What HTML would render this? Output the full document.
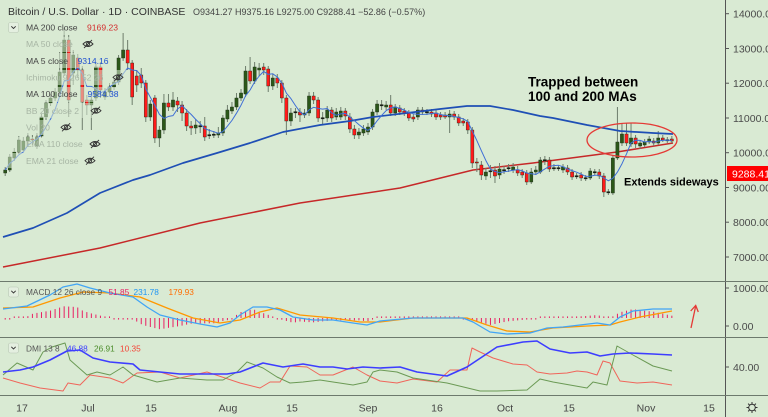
<!DOCTYPE html>
<html><head><meta charset="utf-8">
<style>
html,body{margin:0;padding:0;background:#d9ead3;width:768px;height:417px;overflow:hidden;}
svg{display:block;font-family:"Liberation Sans",Arial,sans-serif;}
</style></head>
<body>
<svg id="chart" width="768" height="417" viewBox="0 0 768 417" xmlns="http://www.w3.org/2000/svg">
<rect width="768" height="417" fill="#d9ead3"/>

<!-- moving averages 100 / 200 -->
<polyline fill="none" stroke="#c62828" stroke-width="1.5" stroke-linejoin="round" points="3,267 100,248 200,223 300,203 400,188 473,170 533,163 617,152 673,143"/>
<g id="candles"></g>
<polyline fill="none" stroke="#1f4fb5" stroke-width="1.7" stroke-linejoin="round" points="3,237 33,228 67,213 100,193 133,180 150,175 183,163 217,153 250,143 283,132 320,125 350,121 373,117 407,113 440,109 467,106 490,106 513,110 540,116 553,118 587,125 620,131 653,133 673,134"/>
<polyline id="ma5" fill="none" stroke="#3f6fd6" stroke-width="1" stroke-linejoin="round" points=""/>

<!-- annotations -->
<text x="528" y="86.5" font-size="13.5" font-weight="bold" fill="#000">Trapped between</text>
<text x="528" y="101" font-size="13.5" font-weight="bold" fill="#000">100 and 200 MAs</text>
<ellipse cx="632" cy="140" rx="45" ry="17" fill="none" stroke="#e53935" stroke-width="1.3"/>
<text x="624" y="185.5" font-size="11" font-weight="bold" fill="#000">Extends sideways</text>

<!-- legend overlays -->
<g fill="#d9ead3" opacity="0.55">
<rect x="6" y="20" width="116" height="15"/>
<rect x="6" y="37" width="92" height="15"/>
<rect x="6" y="53" width="110" height="15"/>
<rect x="6" y="70" width="122" height="15"/>
<rect x="6" y="87" width="120" height="15"/>
<rect x="6" y="103" width="100" height="15"/>
<rect x="6" y="120" width="70" height="15"/>
<rect x="6" y="137" width="100" height="15"/>
<rect x="6" y="153" width="95" height="15"/>
</g>

<!-- header -->
<text x="8" y="15" font-size="10.5" fill="#333">Bitcoin / U.S. Dollar · 1D · COINBASE</text>
<text x="193" y="15" font-size="9" fill="#444">O9341.27 H9375.16 L9275.00 C9288.41 −52.86 (−0.57%)</text>

<!-- legend -->
<rect x="8.5" y="22.5" width="10" height="10" rx="2" fill="#e4efe0" stroke="#b8c6b4" stroke-width="0.6"/>
<polyline points="11.3,26.3 13.5,28.5 15.7,26.3" fill="none" stroke="#333" stroke-width="0.9"/>
<g font-size="8.6">
<text x="26" y="30.5" fill="#444">MA 200 close</text><text x="87" y="30.5" fill="#d32f2f">9169.23</text>
<text x="26" y="47.2" fill="#a7b5a4">MA 50 close</text>
<text x="26" y="63.9" fill="#444">MA 5 close</text><text x="77.5" y="63.9" fill="#1e4fd0">9314.16</text>
<text x="26" y="80.5" fill="#a7b5a4">Ichimoku 9 26 52 26</text>
<text x="26" y="97.2" fill="#444">MA 100 close</text><text x="87.5" y="97.2" fill="#1e4fd0">9584.38</text>
<text x="26" y="113.9" fill="#a7b5a4">BB 20 close 2</text>
<text x="26" y="130.5" fill="#a7b5a4">Vol 20</text>
<text x="26" y="147.2" fill="#a7b5a4">EMA 110 close</text>
<text x="26" y="163.9" fill="#a7b5a4">EMA 21 close</text>
</g>
<g id="eyes" fill="none" stroke="#333" stroke-width="0.9"></g>

<!-- right axis -->
<line x1="725.5" y1="0" x2="725.5" y2="417" stroke="#555" stroke-width="1"/>
<g stroke="#555" stroke-width="1">
<line x1="725" y1="13.7" x2="729" y2="13.7"/><line x1="725" y1="48.5" x2="729" y2="48.5"/>
<line x1="725" y1="83.2" x2="729" y2="83.2"/><line x1="725" y1="118" x2="729" y2="118"/>
<line x1="725" y1="152.7" x2="729" y2="152.7"/><line x1="725" y1="187.5" x2="729" y2="187.5"/>
<line x1="725" y1="222.2" x2="729" y2="222.2"/><line x1="725" y1="257" x2="729" y2="257"/>
<line x1="725" y1="288" x2="729" y2="288"/><line x1="725" y1="326" x2="729" y2="326"/>
<line x1="725" y1="367" x2="729" y2="367"/>
</g>
<g font-size="10.5" fill="#4a4a4a">
<text x="733" y="17.5">14000.00</text>
<text x="733" y="52.3">13000.00</text>
<text x="733" y="87">12000.00</text>
<text x="733" y="121.8">11000.00</text>
<text x="733" y="156.5">10000.00</text>
<text x="733" y="191.3">9000.00</text>
<text x="733" y="226">8000.00</text>
<text x="733" y="260.8">7000.00</text>
<text x="733" y="291.8">1000.00</text>
<text x="733" y="329.8">0.00</text>
<text x="733" y="370.8">40.00</text>
</g>
<rect x="727" y="166" width="41" height="15" fill="#ff0000"/>
<text x="732" y="177.3" font-size="10.5" fill="#fff">9288.41</text>

<!-- separators -->
<line x1="0" y1="281.5" x2="768" y2="281.5" stroke="#6d7a6d" stroke-width="1"/>
<line x1="0" y1="337.5" x2="768" y2="337.5" stroke="#6d7a6d" stroke-width="1"/>
<line x1="0" y1="395.5" x2="768" y2="395.5" stroke="#6d7a6d" stroke-width="1"/>

<!-- MACD -->
<g id="hist"></g>
<polyline id="macdSig" fill="none" stroke="#ff9800" stroke-width="1.3" stroke-linejoin="round" points="3,308 33,307 60,298 83,292 110,293 140,297 167,308 193,318 220,323 240,320 260,312 277,308 300,315 333,318 360,322 380,322 413,318 467,318 487,325 507,331 530,332 553,328 587,326 610,325 620,322 640,317 672,311"/>
<polyline id="macdLine" fill="none" stroke="#42a5f5" stroke-width="1.3" stroke-linejoin="round" points="3,309 27,306 50,295 63,287 77,284 90,288 110,293 133,297 147,307 160,315 180,320 200,324 217,327 230,323 240,315 253,307 267,307 280,310 293,317 313,320 333,320 353,323 367,325 380,321 413,318 463,318 473,322 490,332 507,334 530,333 547,328 563,327 597,323 610,325 620,317 633,311 653,309 672,309"/>
<rect x="8.5" y="287" width="10" height="10" rx="2" fill="#e4efe0" stroke="#b8c6b4" stroke-width="0.6"/>
<polyline points="11.3,290.8 13.5,293 15.7,290.8" fill="none" stroke="#333" stroke-width="0.9"/>
<g font-size="8.3">
<text x="26" y="295" fill="#555">MACD 12 26 close 9</text>
<text x="108.5" y="295" fill="#e91e63">51.85</text>
<text x="133.5" y="295" fill="#2196f3">231.78</text>
<text x="168.5" y="295" fill="#ff6d00">179.93</text>
</g>
<line x1="691" y1="328" x2="695.7" y2="306" stroke="#e53935" stroke-width="1.3"/>
<polyline points="690.7,311 695.7,305.5 698.3,312" fill="none" stroke="#e53935" stroke-width="1.3"/>

<!-- DMI -->
<polyline fill="none" stroke="#f0655a" stroke-width="1" stroke-linejoin="round" points="3,378 20,383 40,388 63,391 68,383 80,385 90,375 110,378 123,383 137,373 160,372 180,378 207,372 240,383 260,388 270,382 280,382 290,366 307,367 320,375 333,375 353,367 367,375 380,381 397,383 413,379 437,382 450,370 467,370 472,348 480,352 493,358 513,364 527,365 537,372 550,374 567,373 577,371 587,372 597,375 603,361 610,363 620,381 637,383 653,382 672,385"/>
<polyline fill="none" stroke="#6b9a55" stroke-width="1" stroke-linejoin="round" points="3,375 17,363 33,370 43,352 52,347 65,343 70,360 87,375 97,372 110,375 123,367 133,375 157,382 180,378 207,380 223,380 237,372 247,362 263,368 277,377 290,383 303,382 320,380 333,382 353,385 367,382 373,372 380,370 397,372 413,378 447,383 480,391 497,391 527,390 540,379 553,382 587,388 593,382 607,385 617,346 633,355 653,366 672,371"/>
<polyline fill="none" stroke="#3d3dff" stroke-width="1.6" stroke-linejoin="round" points="3,372 20,370 33,367 50,360 67,351 80,350 93,358 110,362 133,364 140,370 160,372 180,374 207,374 227,374 240,372 263,363 283,367 303,364 320,367 333,367 347,369 363,367 380,368 400,367 417,372 447,376 467,367 497,347 523,342 537,341 550,349 570,353 587,352 600,356 613,354 630,353 653,354 672,355"/>
<rect x="8.5" y="343" width="10" height="10" rx="2" fill="#e4efe0" stroke="#b8c6b4" stroke-width="0.6"/>
<polyline points="11.3,346.8 13.5,349 15.7,346.8" fill="none" stroke="#333" stroke-width="0.9"/>
<g font-size="8.3">
<text x="26" y="351.5" fill="#555">DMI 13 8</text>
<text x="67" y="351.5" fill="#4040ff">46.88</text>
<text x="94" y="351.5" fill="#4c8c2b">26.91</text>
<text x="120" y="351.5" fill="#f44336">10.35</text>
</g>

<!-- time axis -->
<g font-size="10.5" fill="#444" text-anchor="middle">
<text x="22" y="411.5">17</text>
<text x="88" y="411.5">Jul</text>
<text x="151" y="411.5">15</text>
<text x="228" y="411.5">Aug</text>
<text x="292" y="411.5">15</text>
<text x="368" y="411.5">Sep</text>
<text x="437" y="411.5">16</text>
<text x="505" y="411.5">Oct</text>
<text x="569" y="411.5">15</text>
<text x="646" y="411.5">Nov</text>
<text x="709" y="411.5">15</text>
</g>
<g transform="translate(752,407.5)" stroke="#333" stroke-width="1" fill="none">
<circle r="3.3"/>
<line x1="0" y1="-5.5" x2="0" y2="-3.3"/><line x1="0" y1="5.5" x2="0" y2="3.3"/>
<line x1="-5.5" y1="0" x2="-3.3" y2="0"/><line x1="5.5" y1="0" x2="3.3" y2="0"/>
<line x1="-3.9" y1="-3.9" x2="-2.4" y2="-2.4"/><line x1="3.9" y1="3.9" x2="2.4" y2="2.4"/>
<line x1="-3.9" y1="3.9" x2="-2.4" y2="2.4"/><line x1="3.9" y1="-3.9" x2="2.4" y2="-2.4"/>
</g>
</svg>
<script>
(function(){
var D=[[173,170,167,176],[170,157,154,172],[158,152,148,161],[152,140,136,154],[150,141,137,152],[141,137,133,147],[139,140,135,145],[146,137,133,149],[136,117,114,138],[117,103,100,120],
[103,98,94,106],[98,92,88,101],[92,72,52,97],[73,40,28,76],[40,100,35,117],[73,55,50,85],[58,70,54,78],[70,102,66,130],[100,105,95,115],[105,100,96,130],
[98,67,63,101],[67,90,62,98],[97,92,88,100],[92,87,83,95],[87,82,78,90],[82,58,55,85],[58,50,33,61],[50,63,40,70],[63,97,60,105],[76,85,70,92],
[75,83,68,88],[83,117,80,122],[117,104,100,121],[98,138,95,143],[138,130,126,147],[130,103,94,134],[103,107,94,111],[107,100,92,111],[101,105,97,112],[105,113,101,121],
[113,126,109,131],[126,128,121,135],[128,125,119,134],[126,126.5,121,133],[126,137,117,141],[135,135.5,129,139],[135,134.5,131,138],[135,133,127,138],[133,118,115,136],[119,110,105,122],
[111,107,102,114],[107,98,93,110],[98,93,89,101],[94,71,66,97],[71,81,57,84],[81,67,62,84],[70,68,63,76],[67,70,63,75],[69,86,66,92],[86,78,74,90],
[78,83,74,88],[83,98,80,103],[98,121,95,135],[121,113,108,126],[112,112.5,108,118],[112,115,108,122],[115,113,109,118],[113,96,92,116],[96,100,92,104],[100,118,97,122],
[118,118.5,112,124],[118,110,106,122],[110,118,107,122],[117,112,108,120],[117,111,107,120],[111,116,108,120],[117,129,113,133],[129,135,125,139],[135,132,128,139],[133,129,125,136],
[132,127,123,135],[127,112,109,130],[112,104,100,115],[105,105.5,100,110],[107,105,101,110],[105,113,95,116],[113,107,104,116],[108,112,105,115],[111,113,108,116],[113,118,110,121],
[117,119,114,122],[117,110,107,120],[110,112,107,115],[112,112.5,109,115],[112,114,109,117],[113,117,110,120],[115,117,112,120],[115,117,112,119],[117,114,110,133],[114,117,111,120],
[117,123,114,126],[121,123,118,126],[122,130,119,134],[130,163,127,168],[162,163,158,172],[165,175,161,180],[176,172,168,180],[171,171.5,165,178],[170,176,166,183],[175,169,163,179],
[170,170.5,166,174],[168,168.5,164,172],[170,167,163,173],[170,173,166,176],[172,175,169,178],[173,182,170,185],[182,172,168,184],[172,170,166,175],[172,160,157,174],[160,160.5,156,165],
[160,169,157,172],[168,168.5,164,171],[168,168.5,165,171],[170,167,164,173],[168,172,165,175],[172,177,169,180],[176,176.5,173,179],[175,178,172,181],[178,178.5,175,181],[178,171,168,180],
[172,172.5,169,175],[172,176,169,179],[176,192,173,197],[192,192.5,189,195],[193,158,156,195],[158,142,107,160],[143,134,124,146],[134,143,123,146],[144,138,123,147],[138,144,135,148],
[146,143,140,149],[145,142,139,147],[142,139,136,144],[141,143,138,146],[143,138,131,145],[138,140,135,142],[140,140.5,137,143],[139,141,136,143]];
var x0=5.2,dx=4.535,s='',ma=[];
for(var i=0;i<D.length;i++){
 var d=D[i],cx=x0+dx*i,o=d[0],c=d[1],h=d[2],l=d[3];
 s+='<line x1="'+cx+'" y1="'+h+'" x2="'+cx+'" y2="'+l+'" stroke="#6e7d6c" stroke-width="1"/>';
 var top=Math.min(o,c),bot=Math.max(o,c),hh=bot-top,fill=(c<o)?'#2b5719':'#ff1a1a';
 if(hh<1){hh=1.3;fill='#111';top=top-0.4;}
 s+='<rect x="'+(cx-1.6)+'" y="'+top+'" width="3.2" height="'+hh+'" fill="'+fill+'" stroke="#1d2b17" stroke-width="0.4"/>';
 var st=Math.max(0,i-4),sum=0;for(var k=st;k<=i;k++)sum+=D[k][1];
 ma.push(cx.toFixed(1)+','+(sum/(i-st+1)).toFixed(1));
}
document.getElementById('candles').innerHTML=s;
document.getElementById('ma5').setAttribute('points',ma.join(' '));
function parse(id){return document.getElementById(id).getAttribute('points').trim().split(/\s+/).map(function(p){var a=p.split(',');return [+a[0],+a[1]];});}
function interp(P,x){if(x<=P[0][0])return P[0][1];for(var j=1;j<P.length;j++){if(x<=P[j][0]){var t=(x-P[j-1][0])/(P[j][0]-P[j-1][0]);return P[j-1][1]+t*(P[j][1]-P[j-1][1]);}}return P[P.length-1][1];}
var B=parse('macdLine'),O=parse('macdSig'),hs='';
for(var i=0;i<D.length;i++){
 var cx=x0+dx*i,hv=(interp(O,cx)-interp(B,cx))*1.15;
 if(Math.abs(hv)<1.6)hv=(hv<0?-1.6:1.6);
 var y1=318,y2=318-hv;
 hs+='<line x1="'+cx+'" y1="'+y1+'" x2="'+cx+'" y2="'+y2+'" stroke="#e91e63" stroke-width="1"/>';
}
document.getElementById('hist').innerHTML=hs;
var eyes=[[88,44],[118,77.3],[96,110.7],[66,127.3],[95,144],[90,160.7]],es='';
eyes.forEach(function(e){
 es+='<g transform="translate('+e[0]+','+e[1]+')"><path d="M-5,0 Q0,-5 5,0 Q0,5 -5,0Z"/><circle r="1.7"/><line x1="-4" y1="4" x2="4" y2="-4"/></g>';
});
document.getElementById('eyes').innerHTML=es;
})();
</script>
</body></html>
